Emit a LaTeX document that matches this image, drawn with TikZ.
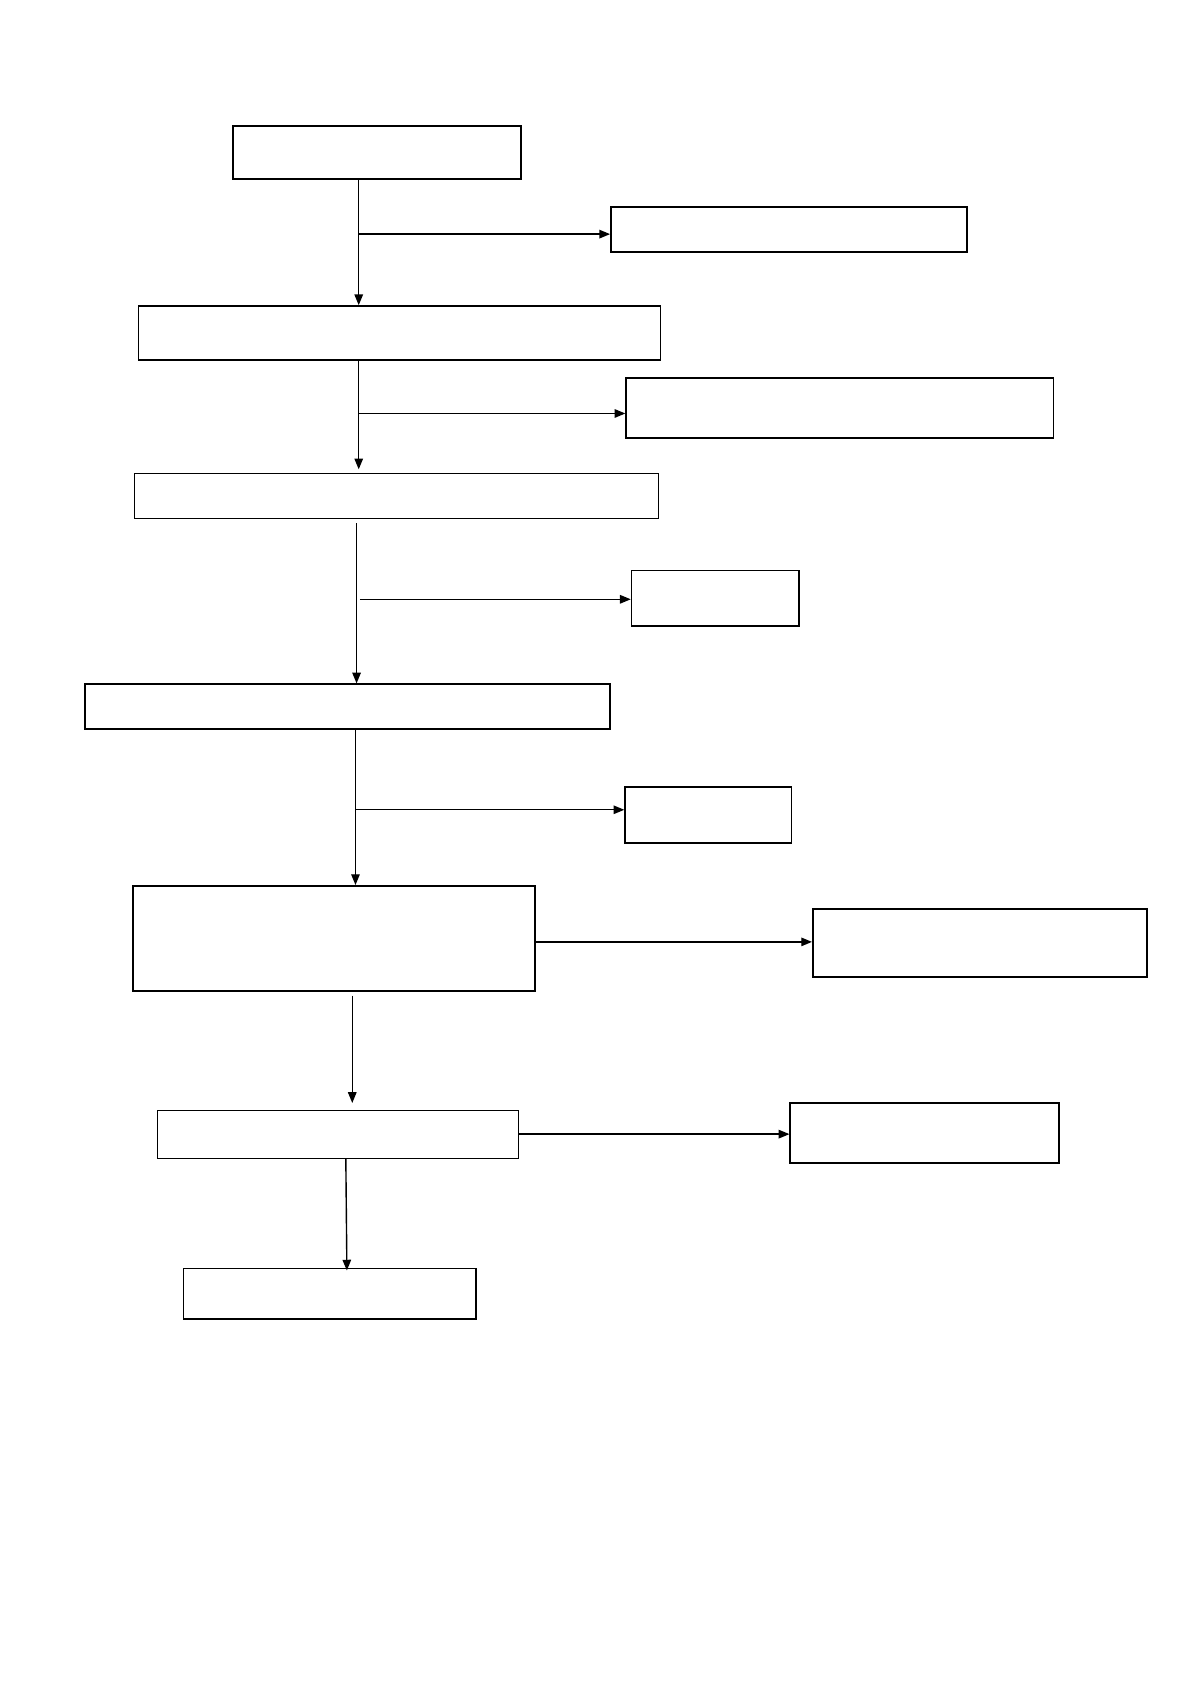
\documentclass[tikz,border=0pt]{standalone}
\usetikzlibrary{arrows.meta,fit}
\begin{document}
\begin{tikzpicture}[x=0.01895cm,y=-0.01895cm,
  box/.style={draw,line width=0.75pt,inner sep=0pt,rectangle},
  thick box/.style={box,line width=1pt},
  arr/.style={line width=0.7pt,-{Triangle[length=1.9mm,width=1.5mm]}}]
\useasboundingbox[fill=white] (0,0) rectangle (1108,1568);
% boxes
\node[thick box,fit={(217,117) (485,167)}] (A) {};
\node[thick box,fit={(569,193) (900,235)}] (B) {};
\node[box,line width=0.9pt,fit={(129,285) (615,335)}] (C) {};
\node[box,fit={(583,352) (981,408)}] (D) {};
\node[box,fit={(125,441) (613,483)}] (E) {};
\node[box,fit={(588,531) (744,583)}] (F) {};
\node[box,fit={(79,637) (568,679)}] (G) {};
\node[box,fit={(582,733) (737,785)}] (H) {};
\node[thick box,fit={(124,825) (498,923)}] (I) {};
\node[thick box,fit={(757,846) (1068,910)}] (J) {};
\node[box,line width=0.6pt,fit={(147,1034) (483,1079)}] (K) {};
\node[thick box,fit={(736,1027) (986,1083)}] (L) {};
\node[box,fit={(171,1181) (443,1228)}] (M) {};
% connector coordinates
\coordinate (x1) at (334,0);
\coordinate (b1) at (334,218);
\coordinate (b2) at (334,385);
\coordinate (e1) at (332,487);
\coordinate (b3) at (335,558);
\coordinate (b4) at (331,754);
\coordinate (x4) at (331,0);
\coordinate (i1) at (328,927);
\coordinate (k1) at (328,1027);
\coordinate (e2) at (334,437);
\coordinate (y9) at (0,877);
\coordinate (y10) at (0,1056);
\coordinate (m1) at (322,1079);
\coordinate (m2) at (323,1183);
% connectors
\draw[arr] (A.south -| x1) -- (C.north -| x1);
\draw[arr] (b1) -- (b1 -| B.west);
\draw[arr] (C.south -| x1) -- (e2);
\draw[arr] (b2) -- (b2 -| D.west);
\draw[arr] (e1) -- (G.north -| e1);
\draw[arr] (b3) -- (b3 -| F.west);
\draw[arr] (G.south -| x4) -- (I.north -| x4);
\draw[arr] (b4) -- (b4 -| H.west);
\draw[arr] (I.east |- y9) -- (J.west |- y9);
\draw[arr] (i1) -- (k1);
\draw[arr] (K.east |- y10) -- (L.west |- y10);
\draw[arr] (m1) -- (m2);
\end{tikzpicture}
\end{document}
